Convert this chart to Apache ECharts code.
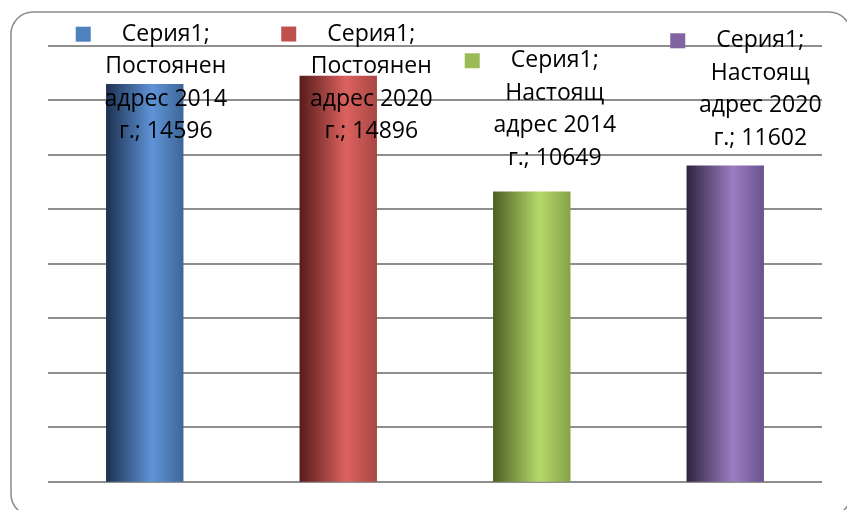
<!DOCTYPE html>
<html>
<head>
<meta charset="utf-8">
<script src="https://cdn.jsdelivr.net/npm/echarts@6/dist/echarts.min.js"></script>
<style>html,body{margin:0;padding:0;background:#fff}#c{width:847px;height:510px}</style>
</head>
<body>
<div id="c"></div>
<script>
const seriesName = 'Серия1';
const categories = ['Постоянен адрес 2014 г.', 'Постоянен адрес 2020 г.', 'Настоящ адрес 2014 г.', 'Настоящ адрес 2020 г.'];
const values = [14596, 14896, 10649, 11602];
// gradient stops per bar: [dark left, light, right]
const barColors = [
  ['#1d3150', '#5f94d8', '#3e6698'],
  ['#561c1b', '#dc625f', '#a94643'],
  ['#4b5e22', '#b6d96c', '#86a246'],
  ['#2e2440', '#9b7dc2', '#6a528e']
];
const keyColors = ['#4f81bd', '#c0504d', '#9bbb59', '#8064a2'];
const labelOffsets = [[21, 64], [33, 72], [23, -17], [35, -11]];

function grad(c) {
  return new echarts.graphic.LinearGradient(0, 0, 1, 0, [
    { offset: 0, color: c[0] },
    { offset: 0.6, color: c[1] },
    { offset: 1, color: c[2] }
  ]);
}

const data = values.map((v, i) => ({
  value: v,
  itemStyle: { color: grad(barColors[i]) },
  label: {
    offset: labelOffsets[i],
    rich: {
      k: { width: 15, height: 15, backgroundColor: keyColors[i], lineHeight: 32.5, verticalAlign: 'middle' },
      g: { width: 31, lineHeight: 32.5 },
      p: { width: 46, lineHeight: 32.5 },
      t: { fontFamily: 'Open Sans', fontSize: 23, color: '#000', lineHeight: 32.5 }
    }
  }
}));

const chart = echarts.init(document.getElementById('c'), null, { renderer: 'canvas' });
chart.setOption({
  animation: false,
  backgroundColor: '#fff',
  graphic: [{
    type: 'rect',
    shape: { x: 11, y: 12, width: 840, height: 504, r: 22 },
    style: { fill: 'none', stroke: '#8a8a8a', lineWidth: 1.5 },
    z: 0, silent: true
  }],
  grid: { left: 48, right: 25, top: 45.7, bottom: 28.3 },
  xAxis: {
    type: 'category', data: categories,
    axisLine: { show: false }, axisTick: { show: false }, axisLabel: { show: false }
  },
  yAxis: {
    type: 'value', min: 0, max: 16000, interval: 2000,
    axisLine: { show: false }, axisTick: { show: false }, axisLabel: { show: false },
    splitLine: { show: true, lineStyle: { color: '#8e8e8e', width: 2 } }
  },
  series: [{
    name: seriesName,
    type: 'bar',
    barWidth: '40%',
    data: data,
    label: {
      show: true,
      position: 'top',
      distance: 0,
      align: 'center',
      fontFamily: 'Open Sans', fontSize: 23, color: '#000', lineHeight: 32.5,
      formatter: p => {
        const parts = p.name.split(' ');
        return '{k|}{g|}{t|' + seriesName + ';}{p|}\n{t|' + parts[0] + '}\n{t|' + parts[1] + ' ' + parts[2] + '}\n{t|' + parts[3] + '; ' + p.value + '}';
      }
    }
  }]
});
</script>
</body>
</html>
